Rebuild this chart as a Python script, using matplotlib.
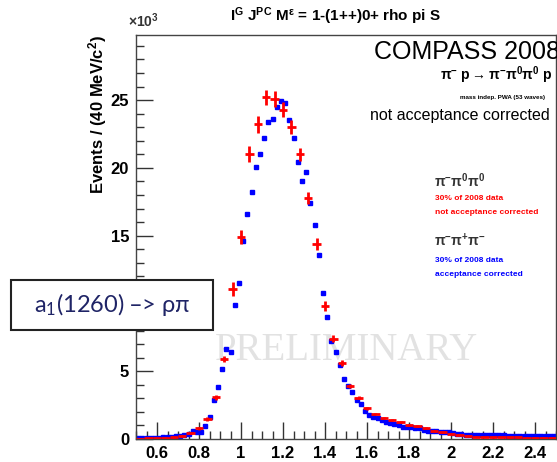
import matplotlib.pyplot as plt
from matplotlib.ticker import MultipleLocator, FormatStrFormatter, FuncFormatter
from matplotlib.patches import Rectangle

plt.rcParams['font.family'] = ['Liberation Sans', 'DejaVu Sans']
plt.rcParams['mathtext.default'] = 'regular'

# red: pi- pi0 pi0, 40 MeV bins, not acceptance corrected (x10^3)
red_m = [0.52, 0.56, 0.60, 0.64, 0.68, 0.72, 0.76, 0.80, 0.84, 0.88,
         0.92, 0.96, 1.00, 1.04, 1.08, 1.12, 1.16, 1.20, 1.24, 1.28,
         1.32, 1.36, 1.40, 1.44, 1.48, 1.52, 1.56, 1.60, 1.64, 1.68,
         1.72, 1.76, 1.80, 1.84, 1.88, 1.92, 1.96, 2.00, 2.04, 2.08,
         2.12, 2.16, 2.20, 2.24, 2.28, 2.32, 2.36, 2.40, 2.44, 2.48]
red_y = [0.03, 0.04, 0.06, 0.10, 0.14, 0.22, 0.42, 0.80, 1.47, 3.07,
         5.90, 11.05, 14.9, 21.0, 23.2, 25.2, 25.1, 24.3, 23.0, 21.0,
         17.8, 14.4, 9.8, 7.4, 5.6, 3.9, 3.05, 2.25, 1.85, 1.57,
         1.40, 1.25, 1.05, 0.95, 0.80, 0.62, 0.50, 0.38, 0.30, 0.22,
         0.18, 0.15, 0.14, 0.13, 0.12, 0.12, 0.11, 0.10, 0.10, 0.10]
red_err = [0.02, 0.02, 0.03, 0.03, 0.04, 0.05, 0.06, 0.10, 0.12, 0.20,
           0.25, 0.50, 0.55, 0.60, 0.60, 0.55, 0.60, 0.55, 0.50, 0.50,
           0.45, 0.45, 0.35, 0.25, 0.20, 0.15, 0.12, 0.10, 0.10, 0.08,
           0.08, 0.07, 0.06, 0.06, 0.05, 0.05, 0.04, 0.04, 0.04, 0.03,
           0.03, 0.03, 0.03, 0.03, 0.03, 0.03, 0.03, 0.03, 0.03, 0.03]

# blue: pi- pi+ pi-, 20 MeV bins, acceptance corrected (x10^3)
blue_m = [0.51, 0.53, 0.55, 0.57, 0.59, 0.61, 0.63, 0.65, 0.67, 0.69,
          0.71, 0.73, 0.75, 0.77, 0.79, 0.81, 0.83, 0.85, 0.87, 0.89,
          0.91, 0.93, 0.95, 0.97, 0.99, 1.01, 1.03, 1.05, 1.07, 1.09,
          1.11, 1.13, 1.15, 1.17, 1.19, 1.21, 1.23, 1.25, 1.27, 1.29,
          1.31, 1.33, 1.35, 1.37, 1.39, 1.41, 1.43, 1.45, 1.47, 1.49,
          1.51, 1.53, 1.55, 1.57, 1.59, 1.61, 1.63, 1.65, 1.67, 1.69,
          1.71, 1.73, 1.75, 1.77, 1.79, 1.81, 1.83, 1.85, 1.87, 1.89,
          1.91, 1.93, 1.95, 1.97, 1.99, 2.01, 2.03, 2.05, 2.07, 2.09,
          2.11, 2.13, 2.15, 2.17, 2.19, 2.21, 2.23, 2.25, 2.27, 2.29,
          2.31, 2.33, 2.35, 2.37, 2.39, 2.41, 2.43, 2.45, 2.47, 2.49]
blue_y = [0.05, 0.05, 0.06, 0.08, 0.10, 0.10, 0.12, 0.15, 0.15, 0.20,
          0.22, 0.28, 0.35, 0.60, 0.55, 0.55, 0.98, 1.60, 2.85, 3.85,
          5.15, 6.65, 6.45, 9.9, 11.5, 14.6, 16.6, 18.2, 20.1, 21.0,
          22.2, 23.4, 23.6, 24.5, 24.9, 24.8, 23.5, 22.2, 20.4, 19.0,
          19.7, 17.4, 15.8, 13.6, 10.8, 9.0, 7.2, 6.4, 5.45, 4.4,
          3.9, 3.5, 2.9, 2.6, 2.1, 1.8, 1.65, 1.55, 1.40, 1.28,
          1.15, 1.10, 1.00, 0.90, 0.88, 0.85, 0.80, 0.80, 0.70, 0.60,
          0.60, 0.60, 0.55, 0.52, 0.48, 0.42, 0.40, 0.35, 0.32, 0.30,
          0.30, 0.30, 0.30, 0.28, 0.28, 0.27, 0.26, 0.26, 0.25, 0.25,
          0.25, 0.24, 0.24, 0.24, 0.23, 0.22, 0.22, 0.21, 0.20, 0.20]

xticks = [0.6, 0.8, 1.0, 1.2, 1.4, 1.6, 1.8, 2.0, 2.2, 2.4]

W, H = 557, 462
fig = plt.figure(figsize=(W / 100, H / 100), dpi=100)
ax = fig.add_axes([136 / W, 1 - 439 / H, (556 - 136) / W, (439 - 35) / H])


def px(x, y):
    return x / W, 1 - y / H


ax.errorbar(blue_m, blue_y, xerr=0.006, fmt='s', color='blue', ms=2.4,
            elinewidth=1.0, capsize=0, zorder=2)
ax.errorbar(red_m, red_y, xerr=0.02, yerr=red_err, fmt='none', ecolor='red',
            elinewidth=2, capsize=0, zorder=3)

ax.set_xlim(0.5, 2.5)
ax.set_ylim(0, 29.8)
ax.set_xticks(xticks)
ax.xaxis.set_major_formatter(FormatStrFormatter('%g'))
ax.xaxis.set_minor_locator(MultipleLocator(0.05))
ax.yaxis.set_major_locator(MultipleLocator(5))
ax.yaxis.set_minor_locator(MultipleLocator(1))
# the "10" label sits under the a1 box in the original
ax.yaxis.set_major_formatter(FuncFormatter(lambda v, p: '' if v == 10 else '%g' % v))
ax.tick_params(which='both', direction='in', top=False, right=False,
               labelsize=12, width=1, color='#333333')
ax.tick_params(which='major', length=12, pad=5)
ax.tick_params(which='minor', length=6)
for lab in ax.get_xticklabels() + ax.get_yticklabels():
    lab.set_fontweight('bold')
for s in ax.spines.values():
    s.set_color('#444444')
    s.set_linewidth(1)

ax.set_ylabel('Events / (40 MeV/c$^{2}$)', fontsize=12, fontweight='bold',
              loc='top')
ax.yaxis.set_label_coords(-0.065, 1.0)

# PRELIMINARY watermark
ax.text(1.5, 6.5, 'PRELIMINARY', fontsize=28, family='Liberation Serif',
        color='#e2e2e2', ha='center', va='center', zorder=1)

fig.text(*px(128, 30), r'$\times$10$^{3}$', fontsize=10, fontweight='bold',
         color='#333333', va='bottom')
fig.text(*px(335, 16), 'I$^{G}$ J$^{PC}$ M$^{\\epsilon}$ = 1-(1++)0+ rho pi S',
         fontsize=11, fontweight='bold', ha='center', va='center')

fig.text(*px(374, 52), 'COMPASS 2008', fontsize=18, ha='left', va='center')
fig.text(*px(552, 75), '$\\pi^{-}$ p$\\rightarrow\\pi^{-}\\pi^{0}\\pi^{0}$ p',
         fontsize=10, fontweight='bold', ha='right', va='center')
fig.text(*px(545, 98), 'mass indep. PWA (53 waves)', fontsize=4.5,
         fontweight='bold', ha='right', va='center')
fig.text(*px(550, 116), 'not acceptance corrected', fontsize=11.5,
         ha='right', va='center')

fig.text(*px(434, 181), '$\\pi^{-}\\pi^{0}\\pi^{0}$', fontsize=10,
         fontweight='bold', ha='left', va='center', color='#333333')
fig.text(*px(435, 198), '30% of 2008 data', fontsize=6, fontweight='bold',
         ha='left', va='center', color='red')
fig.text(*px(435, 212), 'not acceptance corrected', fontsize=6,
         fontweight='bold', ha='left', va='center', color='red')
fig.text(*px(434, 241), '$\\pi^{-}\\pi^{+}\\pi^{-}$', fontsize=10,
         fontweight='bold', ha='left', va='center', color='#333333')
fig.text(*px(435, 261), '30% of 2008 data', fontsize=6, fontweight='bold',
         ha='left', va='center', color='blue')
fig.text(*px(435, 275), 'acceptance corrected', fontsize=6, fontweight='bold',
         ha='left', va='center', color='blue')

# a1 label box
box = Rectangle(px(11, 330), 202 / W, 50 / H, transform=fig.transFigure,
                facecolor='white', edgecolor='#222222', linewidth=1.5,
                zorder=10)
fig.patches.append(box)
fig.text(*px(112, 305), 'a$_{1}$(1260) \u2013> \u03c1\u03c0', fontsize=17,
         family=['Lato', 'DejaVu Sans'], color='#1f2466', ha='center',
         va='center', zorder=11)

fig.savefig('out.png', dpi=100)
